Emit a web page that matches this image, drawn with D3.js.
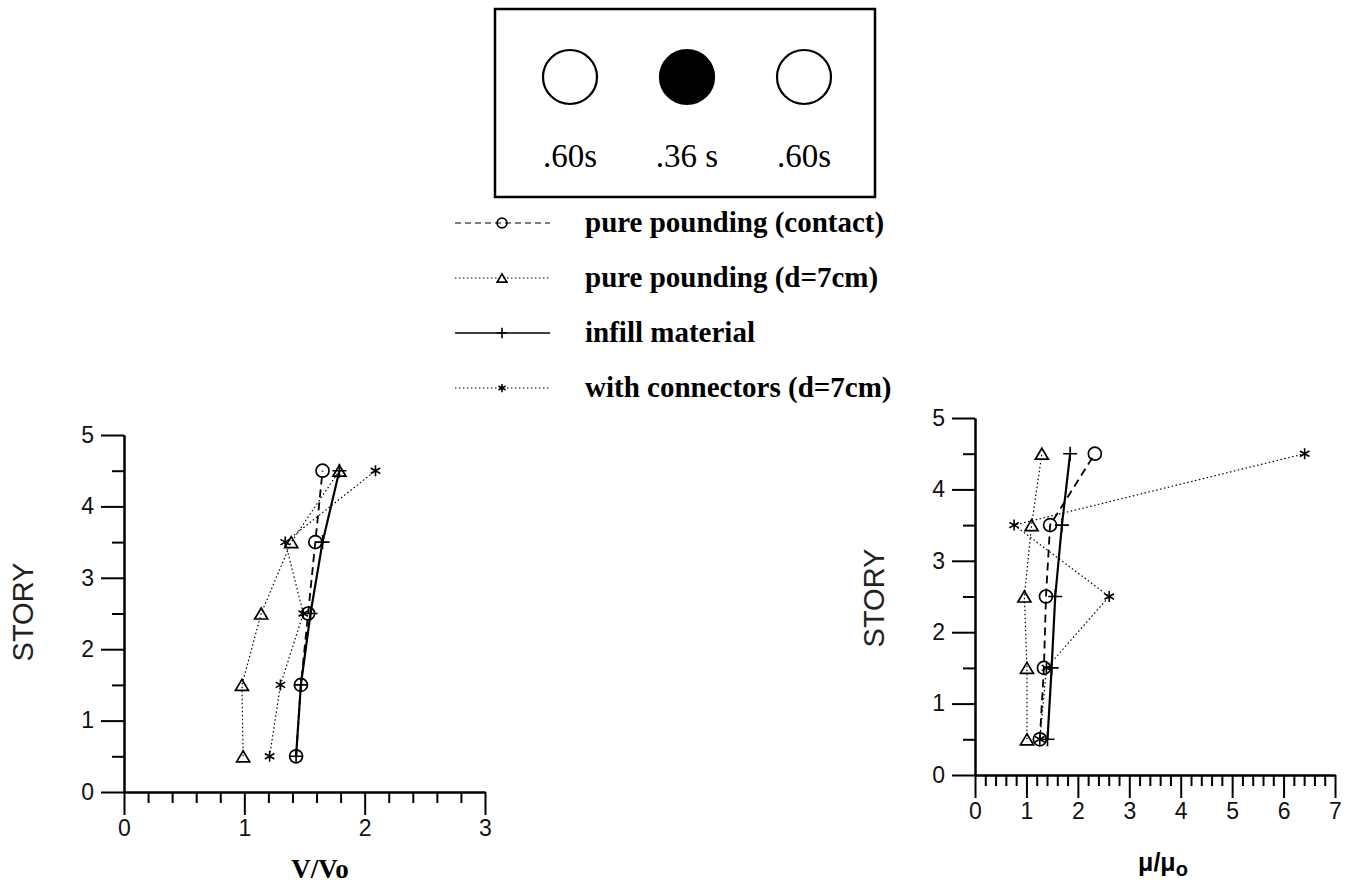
<!DOCTYPE html>
<html>
<head>
<meta charset="UTF-8">
<title>Story response</title>
<script src="https://d3js.org/d3.v7.min.js"></script>
<style>
  body { margin: 0; background: #fff; }
  svg { display: block; }
  .tick text { font-family: "Liberation Sans", Arial, sans-serif; font-size: 23px; fill: #111; }
  .domain, .tick line { stroke: #000; stroke-width: 2; }
</style>
</head>
<body>
<div id="chart"></div>
<script>
// story levels (same for all series)
const stories = [0.5, 1.5, 2.5, 3.5, 4.5];

// V/Vo panel
const vContact = [1.43, 1.47, 1.53, 1.59, 1.65];
const vGap     = [0.99, 0.98, 1.14, 1.39, 1.79];
const vInfill  = [1.43, 1.47, 1.55, 1.65, 1.79];
const vConn    = [1.21, 1.30, 1.49, 1.34, 2.09];

// mu/mu0 panel
const muContact = [1.26, 1.34, 1.38, 1.46, 2.33];
const muGap     = [1.01, 1.01, 0.96, 1.10, 1.30];
const muInfill  = [1.41, 1.49, 1.56, 1.69, 1.85];
const muConn    = [1.26, 1.39, 2.61, 0.76, 6.41];

const storyTicks = [0, 1, 2, 3, 4, 5];
const vTicks = [0, 1, 2, 3];
const muTicks = [0, 1, 2, 3, 4, 5, 6, 7];

const legendLabels = ["pure pounding (contact)", "pure pounding (d=7cm)", "infill material", "with connectors (d=7cm)"];
const periodLabels = [".60s", ".36 s", ".60s"];
const periodFilled = [false, true, false];

const W = 1352, H = 885;
const svg = d3.select("#chart").append("svg").attr("width", W).attr("height", H);

// series styles: marker + dash
const styles = [
  {marker: "circle",   dash: "8,5",     width: 1.8},
  {marker: "triangle", dash: "1.5,2.5", width: 1.2},
  {marker: "plus",     dash: null,      width: 2.2},
  {marker: "star",     dash: "1.5,2.5", width: 1.2}
];

function drawMarker(g, type, x, y, s) {
  s = s || 1;
  if (type === "circle") {
    g.append("circle").attr("cx", x).attr("cy", y).attr("r", 6.5 * s)
      .attr("fill", "none").attr("stroke", "#000").attr("stroke-width", 1.7);
  } else if (type === "triangle") {
    const h = 11 * s, w = 13 * s;
    g.append("path")
      .attr("d", `M${x},${y - h / 2} L${x + w / 2},${y + h / 2} L${x - w / 2},${y + h / 2} Z`)
      .attr("fill", "none").attr("stroke", "#000").attr("stroke-width", 1.7);
  } else if (type === "plus") {
    const r = 7 * s;
    g.append("path").attr("d", `M${x - r},${y} H${x + r} M${x},${y - r} V${y + r}`)
      .attr("stroke", "#000").attr("stroke-width", 1.6);
  } else if (type === "star") {
    const r = 5.5 * s;
    let d = "";
    for (let k = 0; k < 3; k++) {
      const a = Math.PI / 2 + k * Math.PI / 3;
      d += `M${x - r * Math.cos(a)},${y - r * Math.sin(a)} L${x + r * Math.cos(a)},${y + r * Math.sin(a)} `;
    }
    g.append("path").attr("d", d).attr("stroke", "#000").attr("stroke-width", 1.6);
  }
}

function panel(xDomain, xRange, yRange, xMajor, series) {
  const x = d3.scaleLinear().domain(xDomain).range(xRange);
  const y = d3.scaleLinear().domain([0, 5]).range(yRange);
  const g = svg.append("g");

  // minor ticks
  const xMinor = d3.range(xDomain[0], xDomain[1] + 0.001, 0.2).filter(v => Math.abs(v - Math.round(v)) > 0.01);
  const yMinor = [0.5, 1.5, 2.5, 3.5, 4.5];

  g.append("g").attr("transform", `translate(0,${yRange[0]})`)
    .call(d3.axisBottom(x).tickValues(xMinor).tickSize(11).tickSizeOuter(0).tickFormat(""));
  g.append("g").attr("transform", `translate(0,${yRange[0]})`)
    .call(d3.axisBottom(x).tickValues(xMajor).tickSize(23).tickSizeOuter(0).tickPadding(5).tickFormat(d3.format("d")));
  g.append("g").attr("transform", `translate(${xRange[0]},0)`)
    .call(d3.axisLeft(y).tickValues(yMinor).tickSize(12).tickSizeOuter(0).tickFormat(""));
  g.append("g").attr("transform", `translate(${xRange[0]},0)`)
    .call(d3.axisLeft(y).tickValues(storyTicks).tickSize(23).tickSizeOuter(0).tickPadding(7).tickFormat(d3.format("d")));

  const line = d3.line().x(d => x(d[0])).y(d => y(d[1]));
  series.forEach((vals, i) => {
    const st = styles[i];
    const pts = vals.map((v, j) => [v, stories[j]]);
    g.append("path").datum(pts).attr("d", line)
      .attr("fill", "none").attr("stroke", "#000")
      .attr("stroke-width", st.width)
      .attr("stroke-dasharray", st.dash);
    pts.forEach(p => drawMarker(g, st.marker, x(p[0]), y(p[1])));
  });
  return {x, y};
}

panel([0, 3], [124, 485], [792, 435], vTicks, [vContact, vGap, vInfill, vConn]);
panel([0, 7], [975, 1335], [775, 418], muTicks, [muContact, muGap, muInfill, muConn]);

// axis titles
svg.append("text").attr("transform", "translate(33,612) rotate(-90)")
  .attr("text-anchor", "middle")
  .style("font-family", "Liberation Sans, Arial, sans-serif").style("font-size", "29px").style("fill", "#222")
  .text("STORY");
svg.append("text").attr("transform", "translate(884,598) rotate(-90)")
  .attr("text-anchor", "middle")
  .style("font-family", "Liberation Sans, Arial, sans-serif").style("font-size", "29px").style("fill", "#222")
  .text("STORY");
svg.append("text").attr("x", 320).attr("y", 878).attr("text-anchor", "middle")
  .style("font-family", "Liberation Serif, Times New Roman, serif").style("font-weight", "bold").style("font-size", "27px")
  .text("V/Vo");
const mu = svg.append("text").attr("x", 1163).attr("y", 871).attr("text-anchor", "middle")
  .style("font-family", "Liberation Sans, Arial, sans-serif").style("font-weight", "bold").style("font-size", "25px");
mu.append("tspan").text("μ/μ");
mu.append("tspan").attr("dy", 5).style("font-size", "20px").text("o");

// period box
svg.append("rect").attr("x", 495).attr("y", 9).attr("width", 380).attr("height", 188)
  .attr("fill", "none").attr("stroke", "#000").attr("stroke-width", 2.5);
const boxX = d3.scalePoint().domain(d3.range(periodLabels.length)).range([570, 804]);
periodLabels.forEach((lab, i) => {
  svg.append("circle").attr("cx", boxX(i)).attr("cy", 77).attr("r", 27)
    .attr("fill", periodFilled[i] ? "#000" : "none").attr("stroke", "#000").attr("stroke-width", 2.2);
  svg.append("text").attr("x", boxX(i)).attr("y", 167).attr("text-anchor", "middle")
    .style("font-family", "Liberation Serif, Times New Roman, serif").style("font-size", "33px")
    .text(lab);
});

// legend
const legY = d3.scalePoint().domain(d3.range(legendLabels.length)).range([223, 388]);
legendLabels.forEach((lab, i) => {
  const st = styles[i];
  const yy = legY(i);
  svg.append("line").attr("x1", 455).attr("x2", 550).attr("y1", yy).attr("y2", yy)
    .attr("stroke", "#000").attr("stroke-width", i === 2 ? 1.6 : (i === 0 ? 1.2 : 1))
    .attr("stroke-dasharray", i === 0 ? "6,4" : st.dash);
  drawMarker(svg, st.marker, 502, yy, 0.75);
  svg.append("text").attr("x", 585).attr("y", yy + 9)
    .style("font-family", "Liberation Serif, Times New Roman, serif").style("font-weight", "bold").style("font-size", "29px")
    .text(lab);
});
</script>
</body>
</html>
